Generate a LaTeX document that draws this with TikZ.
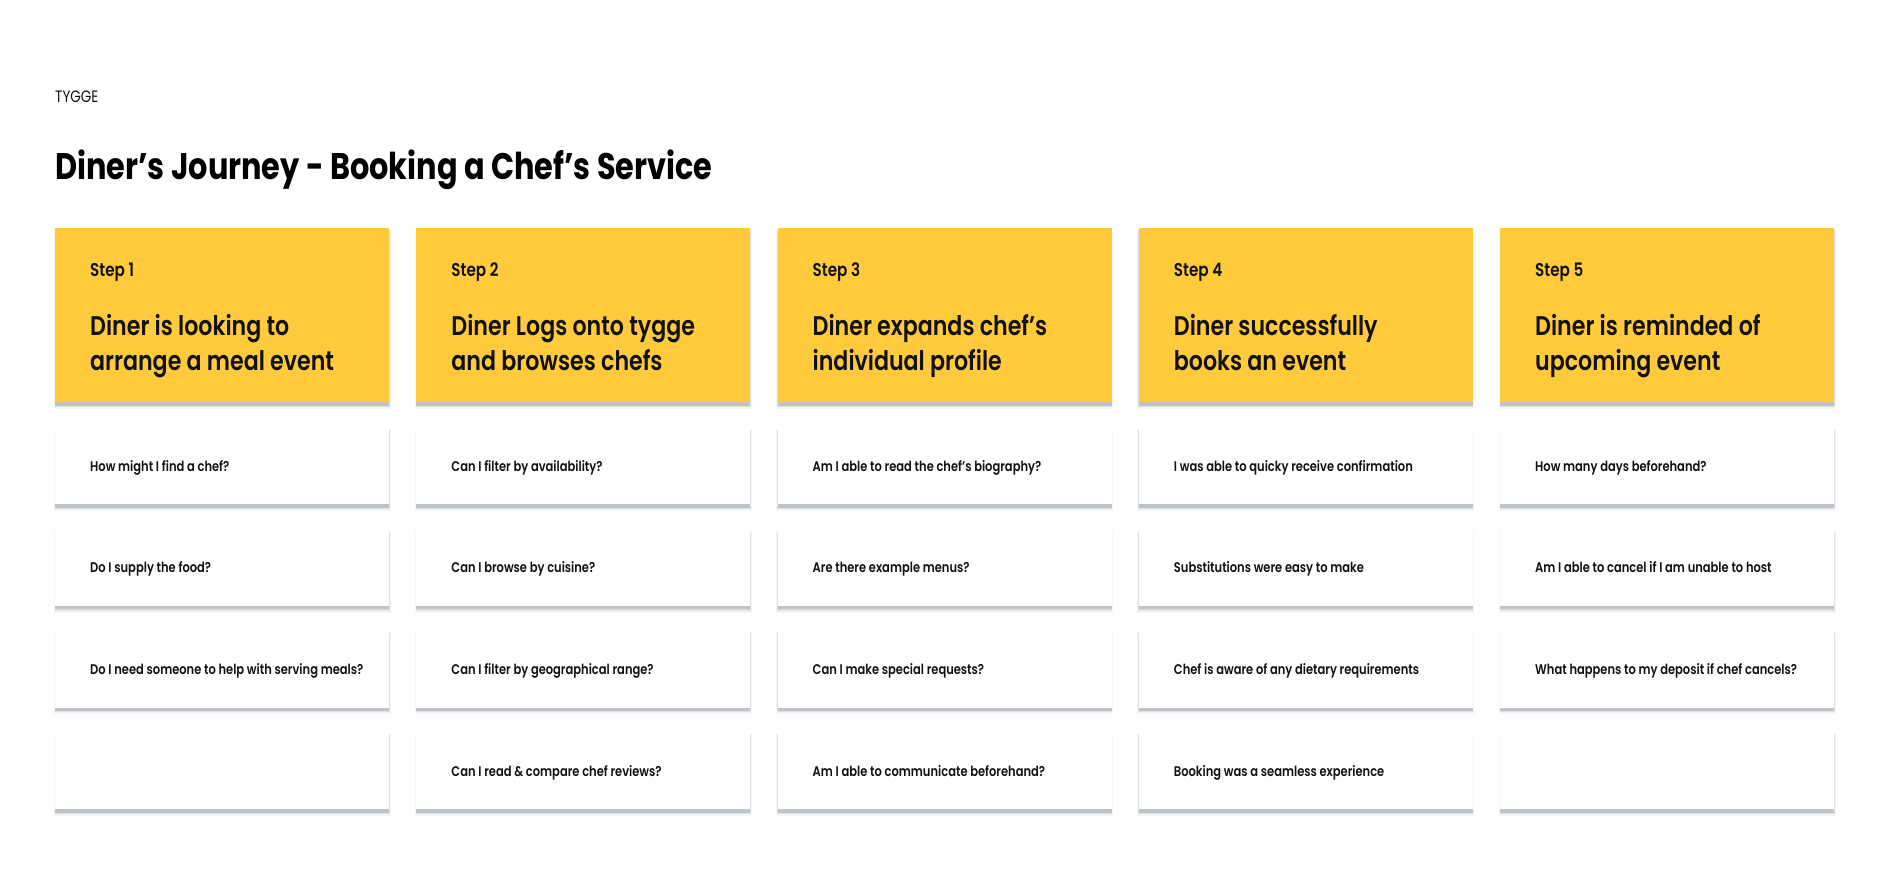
\documentclass[tikz,border=0pt]{standalone}
\usepackage{fontspec}
\setmainfont{Poppins}[FakeStretch=0.82]
\newfontfamily\semifont{Poppins SemiBold}[FakeStretch=0.82]
\definecolor{stepyellow}{HTML}{FFCB3D}
\definecolor{shadegrey}{HTML}{A9ADB4}
\definecolor{inkblack}{HTML}{111111}
\tikzset{
  stepbox/.style={fill=stepyellow, draw=none, minimum width=334pt, minimum height=174pt, anchor=north west, inner sep=0pt},
  cardbox/.style={fill=white, draw=none, minimum width=334pt, minimum height=76pt, anchor=north west, inner sep=0pt},
  steplabel/.style={anchor=base west, inner sep=0pt, text=inkblack, font=\semifont\fontsize{18.5}{20}\selectfont},
  stephead/.style={anchor=base west, inner sep=0pt, text=inkblack, font=\semifont\fontsize{27}{35}\selectfont},
  cardtext/.style={anchor=base west, inner sep=0pt, text=inkblack, font=\semifont\fontsize{14}{17}\selectfont},
  shadeA/.style={fill=shadegrey, opacity=0.12},
  shadeB/.style={fill=shadegrey, opacity=0.3},
  shadeC/.style={fill=shadegrey, opacity=0.55}
}
\newcommand\dropshade[3]{% x, top, height
  \fill[shadeA] ({#1-1.5},{#2+1}) rectangle ({#1+335.5},{#2+#3+7});
  \fill[shadeB] ({#1-0.5},{#2+2}) rectangle ({#1+334.5},{#2+#3+5});
  \fill[shadeC] ({#1},{#2+3}) rectangle ({#1+334},{#2+#3+3.5});
}
\begin{document}
\begin{tikzpicture}[x=1pt,y=-1pt]
\useasboundingbox (0,0) rectangle (1890,893);
\fill[white] (0,0) rectangle (1890,893);
\node[anchor=base west, inner sep=0pt, text=inkblack, font=\fontsize{16.5}{18}\selectfont] (brand) at (55,103) {TYGGE};
\node[anchor=base west, inner sep=0pt, text=black, font=\bfseries\fontsize{37}{40}\selectfont] (title) at (55,180) {Diner’s Journey - Booking a Chef’s Service};

\foreach \i/\s/\a/\b in {
  0/1/Diner is looking to/arrange a meal event,
  1/2/Diner Logs onto tygge/and browses chefs,
  2/3/Diner expands chef’s/individual profile,
  3/4/Diner successfully/books an event,
  4/5/Diner is reminded of/upcoming event}{
  \pgfmathsetmacro\xx{55+361.25*\i}
  \dropshade{\xx}{228}{174}
  \node[stepbox] (h\s) at (\xx,228) {};
  \node[steplabel] (hs\s) at ({\xx+35},277) {Step \s};
  \node[stephead] (ha\s) at ({\xx+35},335) {\a};
  \node[stephead] (hb\s) at ({\xx+35},370) {\b};
}

\foreach \i/\j/\t in {
  0/1/How might I find a chef?,
  0/2/Do I supply the food?,
  0/3/Do I need someone to help with serving meals?,
  0/4/,
  1/1/Can I filter by availability?,
  1/2/Can I browse by cuisine?,
  1/3/Can I filter by geographical range?,
  1/4/Can I read \& compare chef reviews?,
  2/1/Am I able to read the chef’s biography?,
  2/2/Are there example menus?,
  2/3/Can I make special requests?,
  2/4/Am I able to communicate beforehand?,
  3/1/I was able to quicky receive confirmation,
  3/2/Substitutions were easy to make,
  3/3/Chef is aware of any dietary requirements,
  3/4/Booking was a seamless experience,
  4/1/How many days beforehand?,
  4/2/Am I able to cancel if I am unable to host,
  4/3/What happens to my deposit if chef cancels?,
  4/4/}{
  \pgfmathsetmacro\xx{55+361.25*\i}
  \pgfmathsetmacro\yy{428+101.7*(\j-1)}
  \dropshade{\xx}{\yy}{76}
  \node[cardbox] (c\i\j) at (\xx,\yy) {};
  \node[cardtext] (ct\i\j) at ({\xx+35},{\yy+43}) {\t};
}
\end{tikzpicture}
\end{document}
